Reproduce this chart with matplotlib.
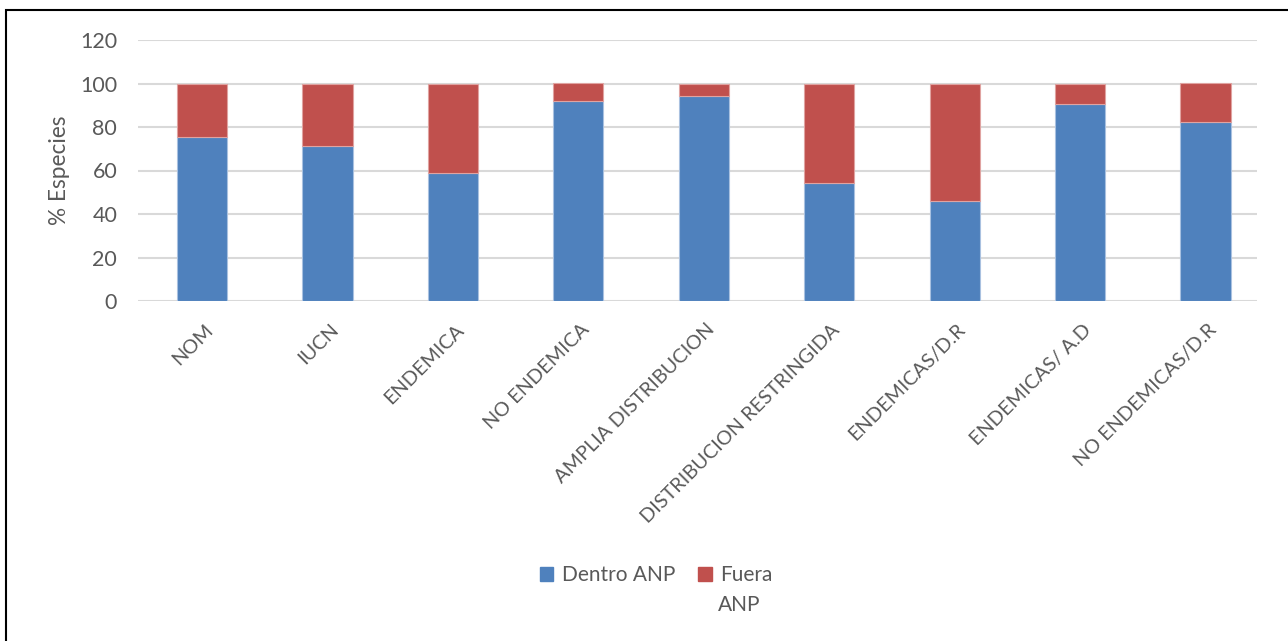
import matplotlib
matplotlib.use("Agg")
import matplotlib.pyplot as plt
import matplotlib.transforms as mtransforms
import numpy as np
from matplotlib.patches import Rectangle, Patch

categorias = ["NOM", "IUCN", "ENDEMICA", "NO ENDEMICA", "AMPLIA DISTRIBUCION",
              "DISTRIBUCION RESTRINGIDA", "ENDEMICAS/D.R", "ENDEMICAS/ A.D",
              "NO ENDEMICAS/D.R"]
dentro_anp = [75.5, 71.2, 58.9, 92.0, 94.3, 54.1, 46.0, 90.4, 82.4]
fuera_anp = [100 - v for v in dentro_anp]
yticks = [0, 20, 40, 60, 80, 100, 120]

azul = "#4F81BD"
rojo = "#C0504D"
gris_texto = "#595959"

plt.rcParams['font.family'] = ['Lato', 'DejaVu Sans']

fig = plt.figure(figsize=(12.88, 6.41), dpi=100)
ax = fig.add_axes([138/1288, 340/641, 1119/1288, 261/641])

x = np.arange(len(categorias))
ax.bar(x, dentro_anp, width=0.4, color=azul, edgecolor="#a9c1e0", linewidth=0.8,
       label="Dentro ANP", zorder=3)
ax.bar(x, fuera_anp, width=0.4, bottom=dentro_anp, color=rojo, edgecolor="#e0a3a1",
       linewidth=0.8, label="Fuera", zorder=3)

ax.set_xlim(-0.51, len(categorias) - 0.59)
ax.set_ylim(0, 120)
ax.set_yticks(yticks)
ax.yaxis.grid(True, color="#d9d9d9", linewidth=1.5, zorder=0)
ax.set_axisbelow(True)
for s in ax.spines.values():
    s.set_visible(False)
ax.tick_params(axis="both", length=0, colors=gris_texto)
ax.tick_params(axis="y", pad=15, labelsize=15.5)
ax.set_xticks(x)
ax.set_xticklabels(categorias, rotation=45, ha="right", va="top",
                   rotation_mode="anchor", fontsize=14.3)
desplaza = mtransforms.ScaledTranslation(0.02, -0.15, fig.dpi_scale_trans)
for lbl in ax.get_xticklabels():
    lbl.set_transform(lbl.get_transform() + desplaza)
ax.set_ylabel("% Especies", fontsize=16.3, color=gris_texto, labelpad=7)

handles = [Patch(color=azul), Patch(color=rojo)]
leg = fig.legend(handles, ["Dentro ANP", "Fuera"], loc="center",
                 bbox_to_anchor=(656/1288, 1 - 575/641), ncol=2, frameon=False,
                 fontsize=15, handlelength=0.65, handleheight=0.65,
                 handletextpad=0.4, columnspacing=1.1, labelcolor=gris_texto,
                 borderpad=0)
fig.text(718/1288, 1 - 605/641, "ANP", fontsize=15, color=gris_texto,
         ha="left", va="center")

# marco del grafico
fig.patches.append(Rectangle((6/1288, -0.1), 1.2, 1.1 - 10/641,
                             transform=fig.transFigure, fill=False,
                             edgecolor="black", linewidth=1.5))

fig.savefig("out.png", dpi=100)
